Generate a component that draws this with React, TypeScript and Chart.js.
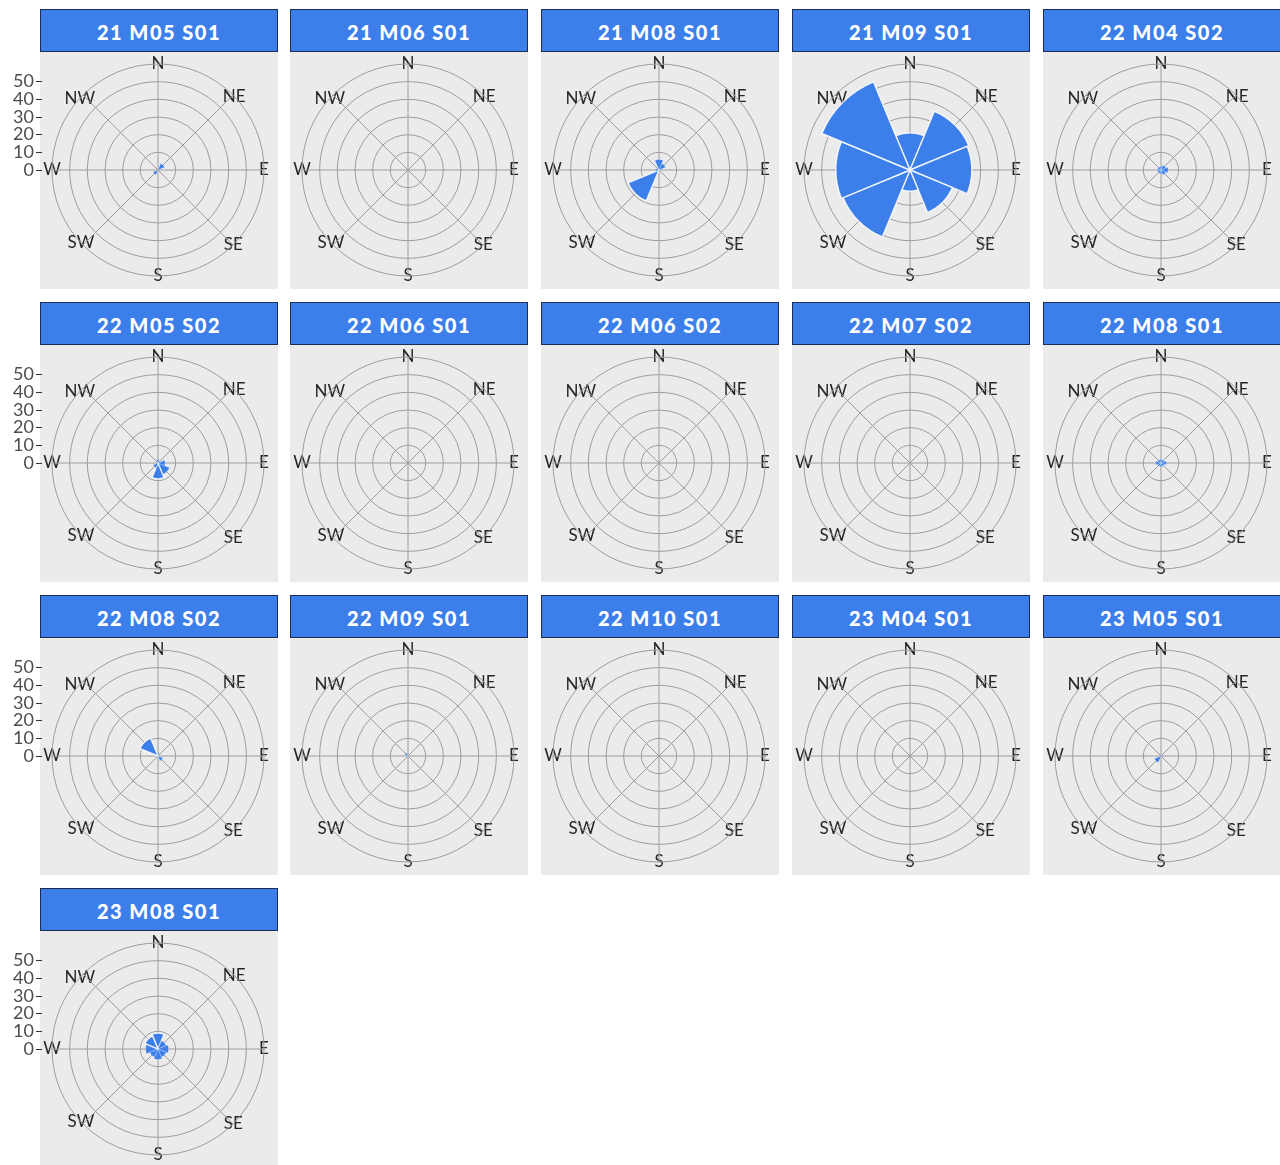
import React, { useEffect, useRef } from 'react';
import { Chart, registerables } from 'chart.js';

Chart.register(...registerables);

// ---- data ----
const DIRECTIONS = ['N', 'NE', 'E', 'SE', 'S', 'SW', 'W', 'NW'];
const BIN_WIDTH_DEG = 45;

const PANEL_TITLES = [
  '21 M05 S01', '21 M06 S01', '21 M08 S01', '21 M09 S01', '22 M04 S02',
  '22 M05 S02', '22 M06 S01', '22 M06 S02', '22 M07 S02', '22 M08 S01',
  '22 M08 S02', '22 M09 S01', '22 M10 S01', '23 M04 S01', '23 M05 S01',
  '23 M08 S01',
];

// values per direction bin: N, NE, E, SE, S, SW, W, NW
const V_21_M05_S01 = [0, 4, 0, 0, 0, 3, 0, 0];
const V_21_M06_S01 = [0, 0, 0, 0, 0, 0, 0, 0];
const V_21_M08_S01 = [6, 4, 0, 0, 0, 19, 2, 0];
const V_21_M09_S01 = [21, 36, 35, 26, 12, 41, 42, 54];
const V_22_M04_S02 = [2, 3, 4, 3, 2, 2, 2, 2];
const V_22_M05_S02 = [2, 1, 4, 7, 9, 3, 0, 0];
const V_22_M06_S01 = [0, 0, 0, 0, 0, 0, 0, 0];
const V_22_M06_S02 = [0, 0, 0, 0, 0, 0, 0, 0];
const V_22_M07_S02 = [0, 0, 0, 0, 0, 0, 0, 0];
const V_22_M08_S01 = [2, 2, 3, 2, 2, 2, 3, 2];
const V_22_M08_S02 = [2, 0, 0, 3, 0, 0, 1, 11];
const V_22_M09_S01 = [0, 1, 0, 0, 0, 1, 0, 2];
const V_22_M10_S01 = [0, 0, 0, 0, 0, 0, 0, 0];
const V_23_M04_S01 = [0, 0, 0, 0, 0, 0, 0, 0];
const V_23_M05_S01 = [0, 1, 0, 0, 0, 4, 0, 0];
const V_23_M08_S01 = [9, 5, 6, 5, 6, 5, 7, 8];

const PANEL_VALUES = [
  V_21_M05_S01, V_21_M06_S01, V_21_M08_S01, V_21_M09_S01, V_22_M04_S02,
  V_22_M05_S02, V_22_M06_S01, V_22_M06_S02, V_22_M07_S02, V_22_M08_S01,
  V_22_M08_S02, V_22_M09_S01, V_22_M10_S01, V_23_M04_S01, V_23_M05_S01,
  V_23_M08_S01,
];

const Y_TICKS = [0, 10, 20, 30, 40, 50];
const R_MAX = 60;
const R_STEP = 10;

// ---- style / layout ----
const BLUE = '#3d7fea';
const GRID = '#9c9c9c';
const PANEL_BG = '#ebebeb';
const FONT = 'Lato, "Open Sans", sans-serif';
const LABEL_SIZE = 17;
const LABEL_LH = 18;
const COLS = 5;
const COL_LEFT = [40, 290, 541, 792, 1043];
const ROW_TOP = [9, 302, 595, 888];
const PANEL_W = 238;
const STRIP_H = 43;
const BODY_H = 237;
const AXIS_W = 42;
const PAD = { left: 2, right: 6, top: 3, bottom: 4 };
const AREA = 230; // square chart area
const R_PX = AREA / 2 - LABEL_LH / 2; // radius after label fitting

let measureCtx: CanvasRenderingContext2D | null = null;
function labelPad(label: string, index: number): number {
  if (!measureCtx) measureCtx = document.createElement('canvas').getContext('2d');
  const m = measureCtx as CanvasRenderingContext2D;
  m.font = `${LABEL_SIZE}px ${FONT}`;
  const w = m.measureText(label).width;
  const h = LABEL_LH;
  const deg = index * BIN_WIDTH_DEG;
  if (deg % 180 === 0) return -h / 2;
  if (deg % 90 === 0) return -w / 2;
  return -(w + h) / (2 * Math.SQRT2);
}

function Panel({ title, values, col, row }: { title: string; values: number[]; col: number; row: number }) {
  const ref = useRef<HTMLCanvasElement | null>(null);
  const showAxis = col === 0;
  const left = COL_LEFT[col];
  const top = ROW_TOP[row];
  const canvasW = showAxis ? PANEL_W + AXIS_W - PAD.left : PANEL_W;

  useEffect(() => {
    if (!ref.current) return;
    const half = (AREA / 2) * (R_MAX / R_PX);
    const scales: any = {
      r: {
        type: 'radialLinear',
        min: 0,
        max: R_MAX,
        startAngle: 0,
        ticks: { display: false, stepSize: R_STEP },
        grid: { circular: true, color: GRID, lineWidth: 1 },
        angleLines: { display: true, color: GRID, lineWidth: 1 },
        pointLabels: {
          display: true,
          color: '#262626',
          font: { family: FONT, size: LABEL_SIZE, lineHeight: LABEL_LH / LABEL_SIZE },
          padding: (c: any) => labelPad(DIRECTIONS[c.index], c.index),
        },
      },
    };
    if (showAxis) {
      scales.y = {
        type: 'linear',
        position: 'left',
        min: -half,
        max: half,
        afterBuildTicks: (axis: any) => {
          axis.ticks = Y_TICKS.map((v) => ({ value: v }));
        },
        afterFit: (axis: any) => {
          axis.width = AXIS_W;
          axis.paddingTop = 0;
          axis.paddingBottom = 0;
        },
        ticks: {
          color: '#4d4d4d',
          font: { family: FONT, size: 18 },
          padding: 2,
          callback: (v: any) => String(v),
        },
        grid: {
          display: true,
          drawOnChartArea: false,
          drawTicks: true,
          tickLength: 6,
          tickColor: '#333333',
          tickWidth: 1,
        },
        border: { display: false },
      };
    }
    const chart = new Chart(ref.current, {
      type: 'polarArea',
      data: {
        labels: DIRECTIONS,
        datasets: [
          {
            // leading zero-size element rotates the bins so each is centred on its direction
            data: [0, ...values],
            angle: [-BIN_WIDTH_DEG / 2, ...values.map(() => BIN_WIDTH_DEG)],
            backgroundColor: ['rgba(0,0,0,0)', ...values.map(() => BLUE)],
            borderColor: 'rgba(255,255,255,0.85)',
            borderWidth: [0, ...values.map((v) => (v >= 8 ? 1.4 : 0.3))],
          } as any,
        ],
      },
      options: {
        animation: false,
        responsive: false,
        events: [],
        layout: { padding: { left: showAxis ? 0 : PAD.left, right: PAD.right, top: PAD.top, bottom: PAD.bottom } },
        plugins: { legend: { display: false }, tooltip: { enabled: false } },
        scales,
      } as any,
    });
    return () => chart.destroy();
  }, [values, showAxis]);

  return (
    <>
      <div
        style={{
          position: 'absolute',
          left,
          top,
          width: PANEL_W,
          height: STRIP_H,
          boxSizing: 'border-box',
          background: BLUE,
          border: '1px solid #1d2d52',
          color: '#ffffff',
          fontFamily: FONT,
          fontWeight: 900,
          fontSize: 20,
          letterSpacing: 1.5,
          paddingTop: 3,
          lineHeight: `${STRIP_H - 5}px`,
          textAlign: 'center',
        }}
      >
        {title}
      </div>
      <div
        style={{
          position: 'absolute',
          left,
          top: top + STRIP_H,
          width: PANEL_W,
          height: BODY_H,
          background: PANEL_BG,
        }}
      />
      <canvas
        ref={ref}
        width={canvasW}
        height={BODY_H}
        style={{
          position: 'absolute',
          left: left + PANEL_W - canvasW,
          top: top + STRIP_H,
          width: canvasW,
          height: BODY_H,
        }}
      />
    </>
  );
}

export default function App() {
  return (
    <div style={{ position: 'absolute', left: 0, top: 0, width: 1280, height: 1165, background: '#ffffff', overflow: 'hidden' }}>
      {PANEL_TITLES.map((t, i) => (
        <Panel key={t} title={t} values={PANEL_VALUES[i]} col={i % COLS} row={Math.floor(i / COLS)} />
      ))}
    </div>
  );
}
